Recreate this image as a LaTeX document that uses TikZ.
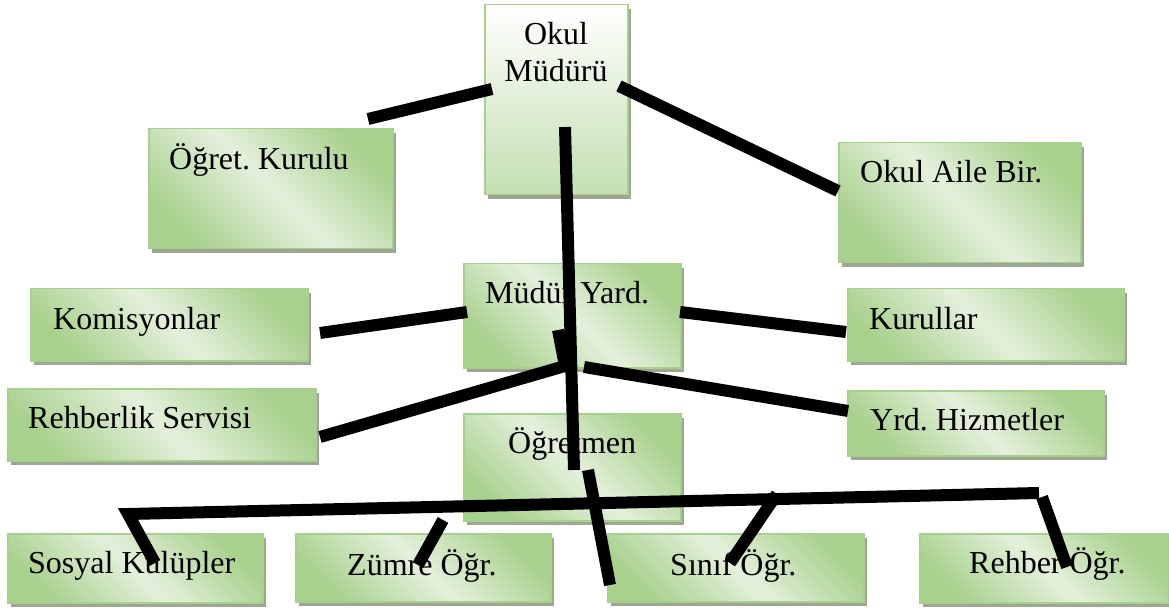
\documentclass[tikz,border=0pt]{standalone}
\usepackage{fontspec}
\setmainfont{Liberation Serif}
\frenchspacing
\usetikzlibrary{shadows}
\definecolor{boxgreen}{RGB}{169,209,142}
\definecolor{boxlight}{RGB}{228,240,220}
\definecolor{boxline}{RGB}{168,208,141}
\definecolor{boxshadow}{RGB}{156,166,146}
\definecolor{topgreen}{RGB}{196,223,178}
\tikzset{
  unit/.style={draw=boxline, line width=1.5pt, rectangle, anchor=north west, inner sep=0pt,
    left color=boxgreen, right color=boxgreen, middle color=boxlight, shading angle=135,
    general shadow={fill=boxshadow, shadow xshift=3pt, shadow yshift=-4pt}},
  headunit/.style={unit, top color=white, bottom color=topgreen, shading angle=0},
  caption/.style={font=\fontsize{32}{37}\selectfont, inner sep=0pt, anchor=base west},
  link/.style={draw=black, line width=12pt, line cap=butt, line join=miter}
}
\begin{document}
\begin{tikzpicture}[x=1pt, y=-1pt]
  \useasboundingbox (0,0) rectangle (1169,609);

  % boxes
  \node [headunit, minimum width=143pt, minimum height=190pt] (okul) at (484,4) {};
  \node [unit, minimum width=244pt, minimum height=120pt] (ogret) at (148,128) {};
  \node [unit, minimum width=242pt, minimum height=120pt] (aile) at (838,142) {};
  \node [unit, minimum width=217pt, minimum height=104pt] (yard) at (463,263) {};
  \node [unit, minimum width=217pt, minimum height=107pt] (ogretmen) at (463,413) {};
  \node [unit, minimum width=277pt, minimum height=72pt] (komisyon) at (30,288) {};
  \node [unit, minimum width=276pt, minimum height=72pt] (kurul) at (847,288) {};
  \node [unit, minimum width=308pt, minimum height=72pt] (rehberlik) at (7,388) {};
  \node [unit, minimum width=256pt, minimum height=65pt] (hizmet) at (847,390) {};
  \node [unit, minimum width=255pt, minimum height=69pt] (sosyal) at (7,533) {};
  \node [unit, minimum width=255pt, minimum height=68pt] (zumre) at (295,533) {};
  \node [unit, minimum width=256pt, minimum height=68pt] (sinif) at (607,533) {};
  \node [unit, minimum width=249pt, minimum height=69pt] (rehber) at (919,533) {};

  % texts
  \node [caption, anchor=north, align=center] (okul-t) at (556,22) {Okul\\Müdürü};
  \node [caption] (ogret-t) at (169,170) {Öğret. Kurulu};
  \node [caption] (aile-t) at (860,183) {Okul Aile Bir.};
  \node [caption] (yard-t) at (485,304) {Müdür Yard.};
  \node [caption] (ogretmen-t) at (508,453) {Öğretmen};
  \node [caption] (komisyon-t) at (53,330) {Komisyonlar};
  \node [caption] (kurul-t) at (869,330) {Kurullar};
  \node [caption] (rehberlik-t) at (28,428) {Rehberlik Servisi};
  \node [caption] (hizmet-t) at (870,430) {Yrd. Hizmetler};
  \node [caption] (sosyal-t) at (28,573) {Sosyal Kulüpler};
  \node [caption] (zumre-t) at (347,575) {Zümre Öğr.};
  \node [caption] (sinif-t) at (670,575) {Sınıf Öğr.};
  \node [caption] (rehber-t) at (969,573) {Rehber Öğr.};

  % line ends
  \coordinate (okul-w) at (492,89);
  \coordinate (ogret-e) at (368,119);
  \coordinate (okul-e) at (619,86);
  \coordinate (aile-w) at (838,191);
  \coordinate (okul-s) at (565,127);
  \coordinate (ogretmen-n) at (574,470);
  \coordinate (yard-w) at (467,312);
  \coordinate (komisyon-e) at (320,333);
  \coordinate (yard-e) at (680,312);
  \coordinate (kurul-w) at (846,332);
  \coordinate (yard-s1) at (558,330);
  \coordinate (yard-s2) at (565,366);
  \coordinate (rehberlik-e) at (320,437);
  \coordinate (yard-s3) at (584,367);
  \coordinate (hizmet-w) at (848,411);
  \coordinate (ogretmen-s) at (588,470);
  \coordinate (sinif-n) at (610,585);
  \coordinate (sosyal-n) at (155,563);
  \coordinate (bus-l) at (128,514);
  \coordinate (bus-r) at (1039,493);
  \coordinate (zumre-a) at (443,520);
  \coordinate (zumre-b) at (418,565);
  \coordinate (sinif-a) at (777,494);
  \coordinate (sinif-b) at (730,563);
  \coordinate (rehber-a) at (1042,497);
  \coordinate (rehber-b) at (1067,567);

  % links
  \draw [link] (okul-w) -- (ogret-e);
  \draw [link] (okul-e) -- (aile-w);
  \draw [link] (okul-s) -- (ogretmen-n);
  \draw [link] (yard-w) -- (komisyon-e);
  \draw [link] (yard-e) -- (kurul-w);
  \draw [link] (yard-s1) -- (yard-s2) -- (rehberlik-e);
  \draw [link] (yard-s3) -- (hizmet-w);
  \draw [link] (ogretmen-s) -- (sinif-n);
  \draw [link] (sosyal-n) -- (bus-l) -- (bus-r);
  \draw [link] (zumre-a) -- (zumre-b);
  \draw [link] (sinif-a) -- (sinif-b);
  \draw [link] (rehber-a) -- (rehber-b);
\end{tikzpicture}
\end{document}
